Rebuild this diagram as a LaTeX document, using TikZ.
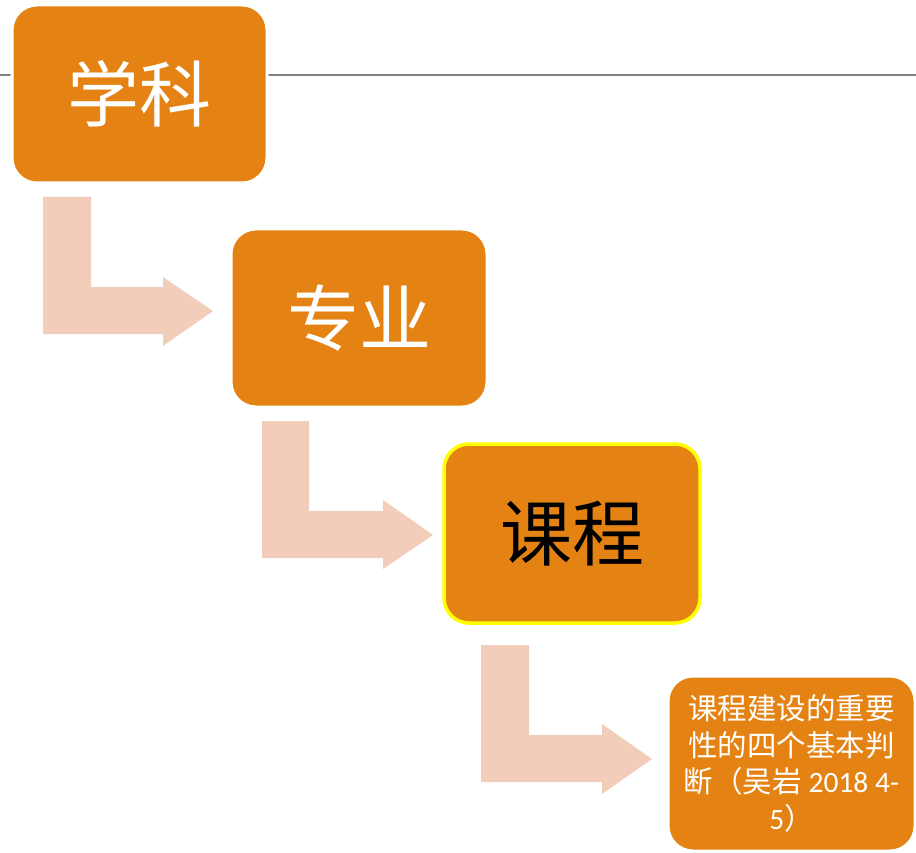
\documentclass[tikz,border=0pt]{standalone}
\usepackage{fontspec}
\setmainfont{Carlito}
\newfontfamily\cjk{Noto Sans CJK SC}
\definecolor{boxorange}{HTML}{E48313}
\definecolor{arrowpink}{HTML}{F2CDBA}
\definecolor{linegray}{HTML}{808080}
\definecolor{hiyellow}{HTML}{FFFF00}
\begin{document}
\begin{tikzpicture}[x=1pt,y=-1pt,
  box/.style={rectangle, rounded corners=25pt, fill=boxorange, draw=white, line width=3pt, inner sep=0pt, align=center},
  bigtext/.style={font=\cjk\fontsize{72}{84}\selectfont},
  bentarrow/.style={fill=arrowpink, draw=none}]
\useasboundingbox (0,0) rectangle (916,853);
\draw[linegray, line width=2pt] (0,75) -- (916,75);
% boxes
\node[box, bigtext, text=white, minimum width=255pt, minimum height=178pt] (b1) at (139.5,94) {学科};
\node[box, bigtext, text=white, minimum width=256pt, minimum height=178pt] (b2) at (359,318) {专业};
\node[box, bigtext, text=black, draw=hiyellow, line width=3.5pt, minimum width=256pt, minimum height=179pt] (b3) at (572,533.5) {课程};
\node[box, text=white, minimum width=247pt, minimum height=175pt, font=\fontsize{29.5}{36.5}\selectfont] (b4) at (791.5,763.5) {{\cjk 课程建设的重要}\\{\cjk 性的四个基本判}\\{\cjk 断（吴岩} 2018 4-\\5{\cjk ）}};
% bent arrows
\fill[bentarrow] (43,197) -- (91,197) -- (91,287) -- (163,287) -- (163,277) -- (213,311) -- (163,346) -- (163,334) -- (43,334) -- cycle;
\fill[bentarrow] (262,421) -- (309,421) -- (309,511) -- (383,511) -- (383,500) -- (433,535) -- (383,569) -- (383,558) -- (262,558) -- cycle;
\fill[bentarrow] (481,645) -- (529,645) -- (529,735) -- (602,735) -- (602,724) -- (652,759) -- (602,794) -- (602,782) -- (481,782) -- cycle;
\end{tikzpicture}
\end{document}
